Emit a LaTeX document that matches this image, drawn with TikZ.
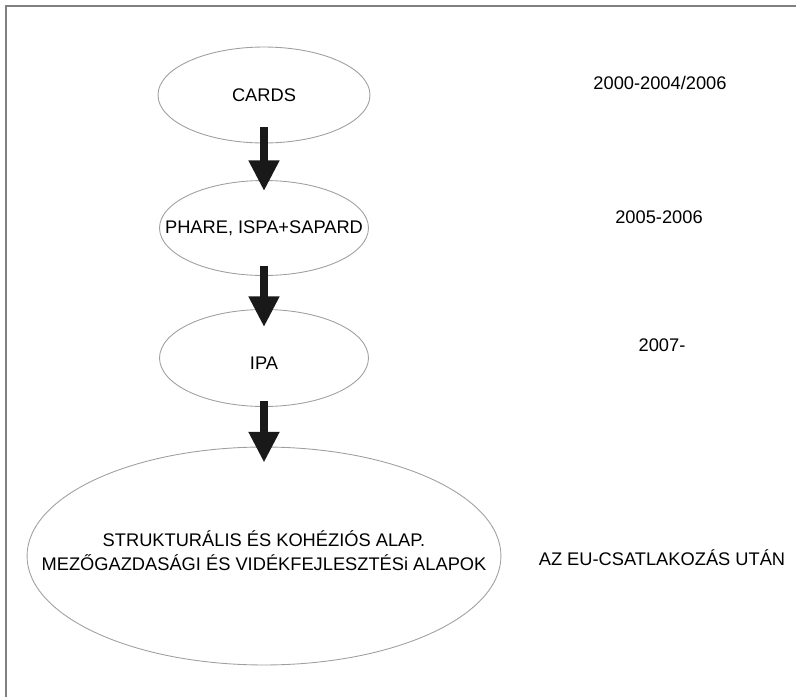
\documentclass[tikz,border=0pt]{standalone}
\usepackage{fontspec}
\setmainfont{Liberation Sans}
\usetikzlibrary{shapes.geometric,arrows.meta}

\begin{document}
\begin{tikzpicture}[x=0.02cm, y=-0.02cm,
    fund/.style={ellipse, draw=gray!75, line width=0.5pt, inner sep=0pt},
    bigarrow/.style={-{Triangle[length=17.5pt,width=16.5pt]}, line width=4.5pt, black!90},
    every label/.style={font=\fontsize{10.4}{13.6}\selectfont, text=black},
    every node/.style={font=\fontsize{10.4}{13.6}\selectfont, text=black}]
    \useasboundingbox (0,0) rectangle (796,697);

    % Frame
    \draw[gray, line width=0.6pt] (6,697) -- (6,6) -- (796,6);

    % Programmes
    \node[fund, minimum width=4.24cm, minimum height=1.92cm, label=center:CARDS] (cards) at (264,95) {};
    \node[fund, minimum width=4.18cm, minimum height=1.9cm, label=center:{PHARE, ISPA+SAPARD}] (phare) at (264,228) {};
    \node[fund, minimum width=4.18cm, minimum height=1.94cm, label={[yshift=-3pt]center:IPA}] (ipa) at (264,358) {};
    \node[fund, minimum width=9.48cm, minimum height=4.36cm,
        label={[align=center, yshift=3pt]center:{STRUKTURÁLIS ÉS KOHÉZIÓS ALAP.\\MEZŐGAZDASÁGI ÉS VIDÉKFEJLESZTÉSi ALAPOK}}] (funds) at (264,556) {};

    % Arrows between them
    \draw[bigarrow] ([yshift=0.32cm]cards.south) -- ([yshift=-0.22cm]phare.north);
    \draw[bigarrow] ([yshift=0.2cm]phare.south) -- ([yshift=-0.36cm]ipa.north);
    \draw[bigarrow] ([yshift=0.12cm]ipa.south) -- ([yshift=-0.32cm]funds.north);

    % Periods
    \node (per1) at (660,83) {2000-2004/2006};
    \node (per2) at (659,217) {2005-2006};
    \node (per3) at (662,345) {2007-};
    \node (per4) at (662,558) {AZ EU-CSATLAKOZÁS UTÁN};
\end{tikzpicture}
\end{document}
